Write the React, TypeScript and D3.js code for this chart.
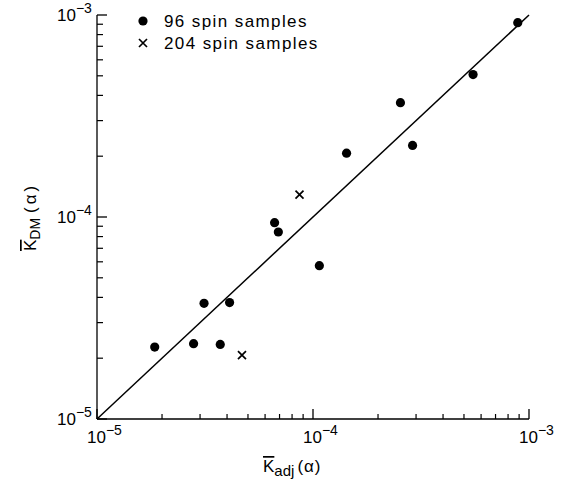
import React from "react";
import * as d3 from "d3";

const dots96X = [1.85e-5, 2.8e-5, 3.72e-5, 3.13e-5, 4.11e-5, 6.64e-5, 6.91e-5, 1.07e-4, 1.43e-4, 2.89e-4, 2.54e-4, 5.51e-4, 8.87e-4];
const dots96Y = [2.27e-5, 2.36e-5, 2.34e-5, 3.74e-5, 3.77e-5, 9.37e-5, 8.43e-5, 5.74e-5, 2.07e-4, 2.26e-4, 3.68e-4, 5.07e-4, 9.16e-4];
const cross204X = [4.69e-5, 8.66e-5];
const cross204Y = [2.07e-5, 1.29e-4];
const majorTicks = [1e-5, 1e-4, 1e-3];
const tickExps = ["\u22125", "\u22124", "\u22123"];
const legendLabels = ["96 spin samples", "204 spin samples"];

const W = 562;
const H = 482;
const FONT = "'Liberation Sans', Arial, sans-serif";

export default function App() {
  const x = d3.scaleLog().domain([1e-5, 1e-3]).range([97, 529]);
  const y = d3.scaleLog().domain([1e-5, 1e-3]).range([419, 15]);
  const minor: number[] = [];
  [1e-5, 1e-4].forEach((d) => {
    for (let k = 2; k <= 9; k++) minor.push(d * k);
  });
  const line = d3
    .line<number>()
    .x((d) => x(d))
    .y((d) => y(d));
  const crossPath = (cx: number, cy: number, s: number) =>
    `M${cx - s},${cy - s}L${cx + s},${cy + s}M${cx - s},${cy + s}L${cx + s},${cy - s}`;

  return (
    <svg
      width={W}
      height={H}
      style={{ position: "absolute", left: 0, top: 0, background: "#fff" }}
      fontFamily={FONT}
    >
      {/* axes */}
      <line x1={x(1e-5)} x2={x(1e-3)} y1={y(1e-5)} y2={y(1e-5)} stroke="#000" strokeWidth={1.3} />
      <line x1={x(1e-5)} x2={x(1e-5)} y1={y(1e-5)} y2={y(1e-3)} stroke="#000" strokeWidth={1.3} />
      {majorTicks.map((t) => (
        <g key={"mx" + t}>
          <line x1={x(t)} x2={x(t)} y1={y(1e-5)} y2={y(1e-5) - 10} stroke="#000" strokeWidth={1.3} />
          <line x1={x(1e-5)} x2={x(1e-5) + 10} y1={y(t)} y2={y(t)} stroke="#000" strokeWidth={1.3} />
        </g>
      ))}
      {minor.map((t) => (
        <g key={"mn" + t}>
          <line x1={x(t)} x2={x(t)} y1={y(1e-5)} y2={y(1e-5) - 5} stroke="#000" strokeWidth={1.2} />
          <line x1={x(1e-5)} x2={x(1e-5) + 6} y1={y(t)} y2={y(t)} stroke="#000" strokeWidth={1.2} />
        </g>
      ))}
      {/* tick labels */}
      {majorTicks.map((t, i) => (
        <text key={"xl" + t} x={x(t) - 10} y={443} fontSize={17} fill="#000">
          10
          <tspan dy={-8} fontSize={14}>{tickExps[i]}</tspan>
        </text>
      ))}
      {majorTicks.map((t, i) => (
        <text key={"yl" + t} x={57} y={y(t) + 6} fontSize={17} fill="#000">
          10
          <tspan dy={-8} fontSize={14}>{tickExps[i]}</tspan>
        </text>
      ))}
      {/* diagonal */}
      <path d={line([1e-5, 1e-3]) || ""} fill="none" stroke="#000" strokeWidth={1.5} />
      {/* data */}
      {dots96X.map((v, i) => (
        <circle key={"d" + i} cx={x(v)} cy={y(dots96Y[i])} r={4.6} fill="#000" />
      ))}
      {cross204X.map((v, i) => (
        <path key={"c" + i} d={crossPath(x(v), y(cross204Y[i]), 4)} stroke="#000" strokeWidth={1.7} fill="none" />
      ))}
      {/* legend */}
      <circle cx={143} cy={21} r={4.6} fill="#000" />
      <path d={crossPath(143, 43, 4)} stroke="#000" strokeWidth={1.7} fill="none" />
      <text x={164} y={27} fontSize={17} letterSpacing={1.4} fill="#000">{legendLabels[0]}</text>
      <text x={164} y={49} fontSize={17} letterSpacing={1.4} fill="#000">{legendLabels[1]}</text>
      {/* axis titles */}
      <text x={263} y={472} fontSize={17} fill="#000">
        <tspan style={{ textDecoration: "overline" }}>K</tspan>
        <tspan dy={4} fontSize={15}>adj</tspan>
        <tspan dy={-4} dx={3} letterSpacing={1}>(α)</tspan>
      </text>
      <text transform="translate(36,251) rotate(-90)" fontSize={17} fill="#000">
        <tspan style={{ textDecoration: "overline" }}>K</tspan>
        <tspan dy={4} fontSize={14}>DM</tspan>
        <tspan dy={-4} dx={5} letterSpacing={3}>(α)</tspan>
      </text>
    </svg>
  );
}
